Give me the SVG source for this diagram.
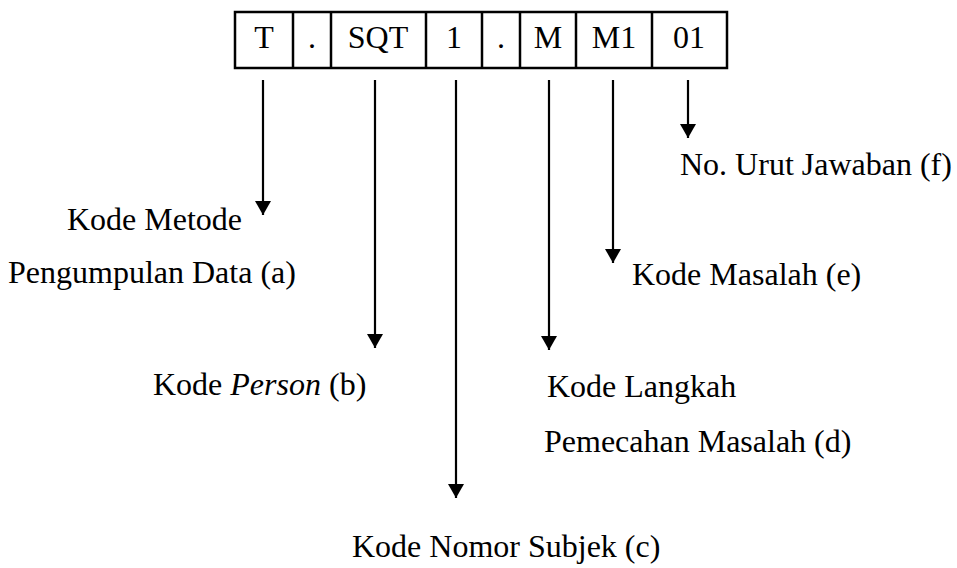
<svg xmlns="http://www.w3.org/2000/svg" width="957" height="568" viewBox="0 0 957 568">
  <style>
    .t { font-size: 32px; fill: #000; }
    .cell { text-anchor: middle; }
    .frame { fill: none; stroke: #000; stroke-width: 2.5; }
    .conn { stroke: #000; stroke-width: 2.2; }
  </style>
  <defs>
    <!-- downward arrowhead, drawn along the line direction -->
    <marker id="head" markerUnits="userSpaceOnUse" markerWidth="14" markerHeight="16" refX="14" refY="8" orient="auto" viewBox="0 0 14 16">
      <polygon points="0,0 14,8 0,16" fill="#000"/>
    </marker>
  </defs>

  <!-- code strip -->
  <g id="code">
    <rect class="frame" x="235" y="12" width="492" height="56"/>
    <line class="frame" x1="293" y1="12" x2="293" y2="68"/>
    <line class="frame" x1="331" y1="12" x2="331" y2="68"/>
    <line class="frame" x1="426" y1="12" x2="426" y2="68"/>
    <line class="frame" x1="482" y1="12" x2="482" y2="68"/>
    <line class="frame" x1="520" y1="12" x2="520" y2="68"/>
    <line class="frame" x1="576" y1="12" x2="576" y2="68"/>
    <line class="frame" x1="652" y1="12" x2="652" y2="68"/>
    <text class="t cell" font-family="Liberation Serif" x="264" y="48">T</text>
    <text class="t cell" font-family="Liberation Serif" x="312" y="48">.</text>
    <text class="t cell" font-family="Liberation Serif" x="378" y="48">SQT</text>
    <text class="t cell" font-family="Liberation Serif" x="454" y="48">1</text>
    <text class="t cell" font-family="Liberation Serif" x="501" y="48">.</text>
    <text class="t cell" font-family="Liberation Serif" x="548" y="48">M</text>
    <text class="t cell" font-family="Liberation Serif" x="614" y="48">M1</text>
    <text class="t cell" font-family="Liberation Serif" x="689" y="48">01</text>
  </g>

  <!-- arrows from each segment -->
  <g id="connectors">
    <line class="conn" x1="263" y1="80" x2="263" y2="215" marker-end="url(#head)"/>
    <line class="conn" x1="375" y1="80" x2="375" y2="348" marker-end="url(#head)"/>
    <line class="conn" x1="456" y1="80" x2="456" y2="498" marker-end="url(#head)"/>
    <line class="conn" x1="549" y1="80" x2="549" y2="350" marker-end="url(#head)"/>
    <line class="conn" x1="613" y1="80" x2="613" y2="263" marker-end="url(#head)"/>
    <line class="conn" x1="688" y1="80" x2="688" y2="138" marker-end="url(#head)"/>
  </g>

  <g id="label-a">
    <text class="t" font-family="Liberation Serif" x="67" y="230">Kode Metode</text>
    <text class="t" font-family="Liberation Serif" x="8" y="283">Pengumpulan Data (a)</text>
  </g>
  <g id="label-b">
    <text class="t" font-family="Liberation Serif" x="153" y="395">Kode <tspan font-style="italic">Person</tspan> (b)</text>
  </g>
  <g id="label-c">
    <text class="t" font-family="Liberation Serif" x="352" y="557">Kode Nomor Subjek (c)</text>
  </g>
  <g id="label-d">
    <text class="t" font-family="Liberation Serif" x="547" y="397">Kode Langkah</text>
    <text class="t" font-family="Liberation Serif" x="544" y="452">Pemecahan Masalah (d)</text>
  </g>
  <g id="label-e">
    <text class="t" font-family="Liberation Serif" x="632" y="285">Kode Masalah (e)</text>
  </g>
  <g id="label-f">
    <text class="t" font-family="Liberation Serif" x="680" y="175">No. Urut Jawaban (f)</text>
  </g>
</svg>
